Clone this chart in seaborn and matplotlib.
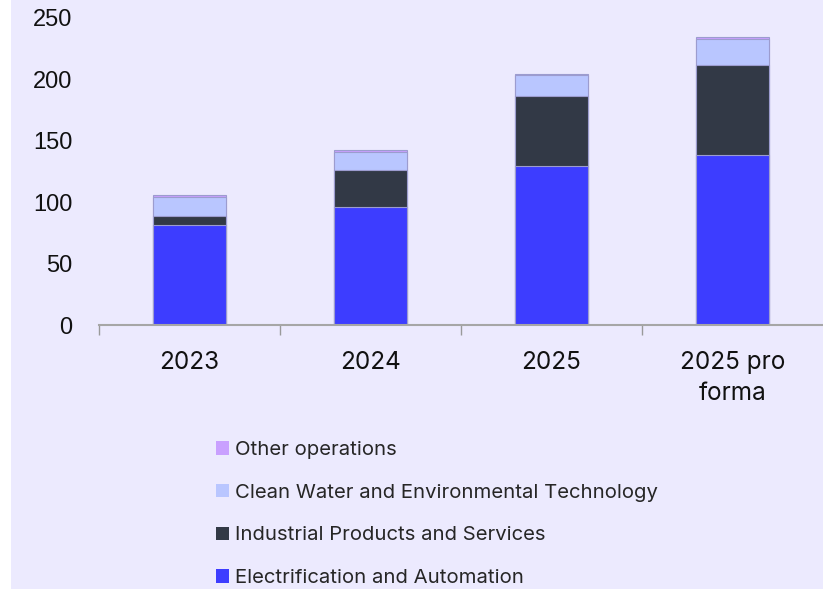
import matplotlib
matplotlib.use("Agg")
import matplotlib.pyplot as plt
import seaborn as sns
import numpy as np
from matplotlib.patches import Patch, Rectangle

categories = ["2023", "2024", "2025", "2025 pro\nforma"]
electrification = [81.3, 96.2, 129.3, 138.3]
industrial = [7.5, 30.1, 57.1, 73.4]
clean_water = [15.8, 14.7, 16.8, 21.4]
other_ops = [1.2, 1.2, 1.6, 1.6]
series_names = ["Electrification and Automation", "Industrial Products and Services",
                "Clean Water and Environmental Technology", "Other operations"]
series_values = [electrification, industrial, clean_water, other_ops]
colors = ["#3D3DFF", "#323946", "#B9C6FF", "#C9A0FF"]
y_ticks = [0, 50, 100, 150, 200, 250]

sns.set_theme(style="white")
plt.rcParams["font.family"] = ["Liberation Sans", "DejaVu Sans"]

bg = "#ECEAFE"
W, H = 823, 589
fig = plt.figure(figsize=(W / 100, H / 100), dpi=100, facecolor="white")
fig.patches.append(Rectangle((11 / W, 0), 1, 1, transform=fig.transFigure,
                             facecolor=bg, edgecolor="none", zorder=-10))
ax = fig.add_axes([99 / W, 1 - 325 / H, 1 - 99 / W, (325 - 18) / H])
ax.set_facecolor(bg)

cums = np.cumsum(np.array(series_values), axis=0)
for i in range(len(series_values) - 1, -1, -1):
    sns.barplot(x=categories, y=cums[i], order=categories, color=colors[i],
                saturation=1, width=0.4, ax=ax, edgecolor="#9C9CCF",
                linewidth=0.8)

ax.set_xlim(-0.5, 3.5)
ax.set_ylim(0, 250)
ax.set_yticks(y_ticks)
ax.set_yticklabels([str(t) for t in y_ticks])
ax.tick_params(axis="y", length=0, pad=19, labelsize=17, labelcolor="#111111")
ax.tick_params(axis="x", which="major", length=0, pad=19, labelsize=17.5,
               labelcolor="#111111")
ax.set_xticks([-0.5, 0.5, 1.5, 2.5], minor=True)
ax.tick_params(axis="x", which="minor", length=7, width=1, color="#9A9A9A",
               direction="out", bottom=True)
for lab in ax.get_xticklabels():
    lab.set_family(["Inter", "DejaVu Sans"])
    lab.set_linespacing(1.45)
ax.set_xlabel("")
ax.set_ylabel("")
for s in ["top", "right", "left"]:
    ax.spines[s].set_visible(False)
ax.spines["bottom"].set_color("#A6A6A6")
ax.spines["bottom"].set_linewidth(1.5)
ax.grid(False)

handles = [Patch(facecolor=colors[i], edgecolor="none", label=series_names[i])
           for i in range(len(series_names) - 1, -1, -1)]
fig.legend(handles=handles, loc="upper left", bbox_to_anchor=(216 / W, 1 - 441 / H),
           frameon=False, prop={"family": ["Inter", "DejaVu Sans"], "size": 14.6},
           handlelength=0.63, handleheight=0.63, handletextpad=0.3,
           labelspacing=1.22, borderaxespad=0, borderpad=0)

fig.savefig("out.png", dpi=100, facecolor="white")
